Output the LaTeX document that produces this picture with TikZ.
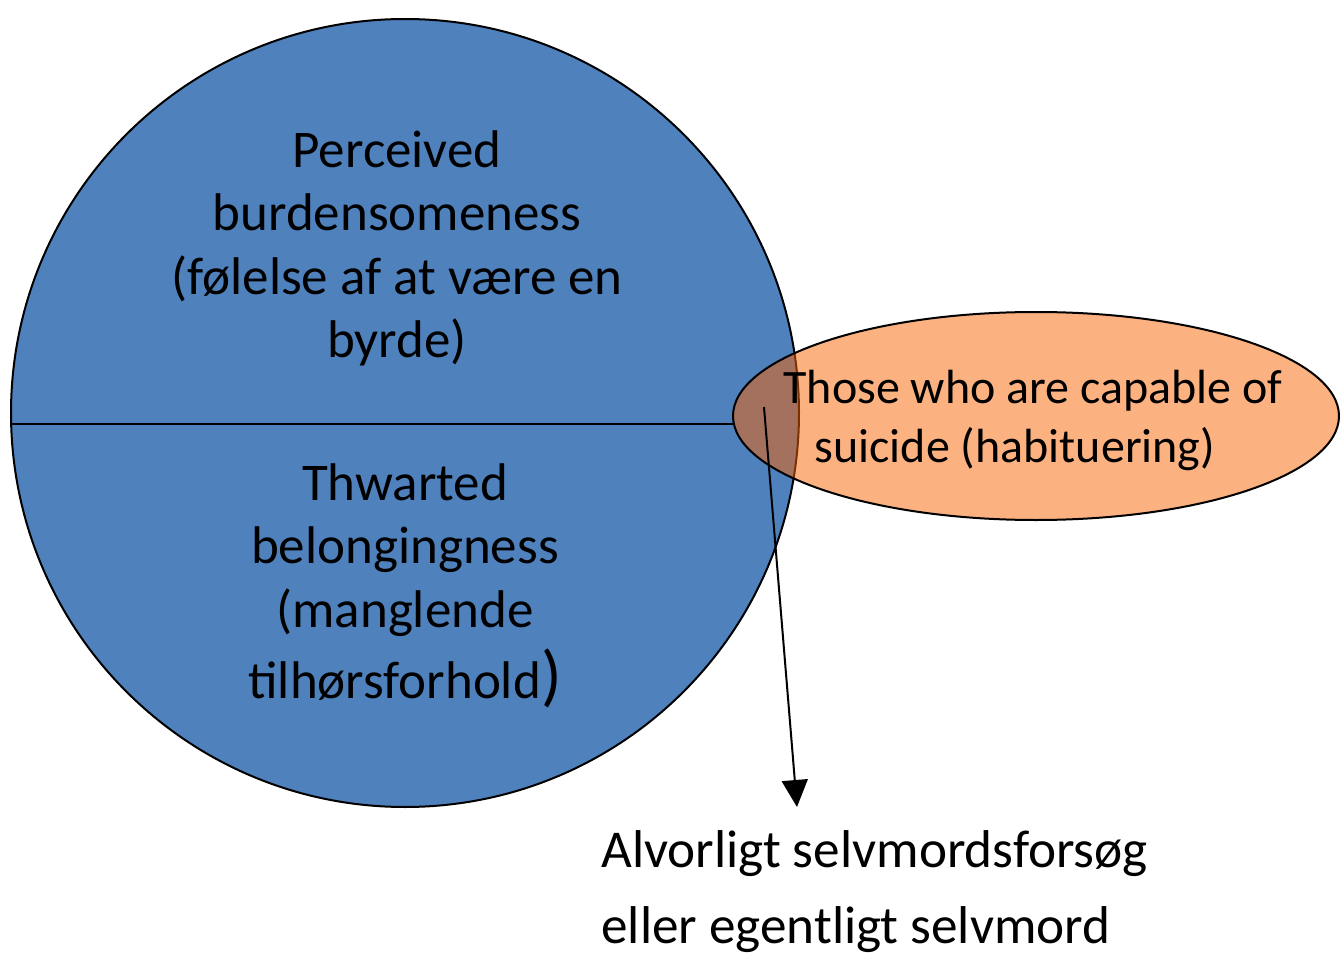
\documentclass[tikz,border=0pt]{standalone}
\usepackage{fontspec}
\setmainfont{Carlito}
\usetikzlibrary{arrows.meta}
\definecolor{circblue}{RGB}{79,129,189}
\definecolor{ellorange}{RGB}{249,99,1}
\tikzset{
  txt/.style={inner sep=0pt, anchor=base, font=\fontsize{26.5}{32}\selectfont},
  etxt/.style={inner sep=0pt, anchor=base, font=\fontsize{24}{29.5}\selectfont},
  btxt/.style={inner sep=0pt, anchor=base west, font=\fontsize{26.6}{38}\selectfont},
  outline/.style={draw=black, line width=1pt},
  connector/.style={line width=1pt, -{Triangle[width=13pt,length=13.5pt]}}
}
\begin{document}
\begin{tikzpicture}[x=0.5pt,y=-0.5pt]
\useasboundingbox (0,0) rectangle (1341,953);
% circle
\node[circle, outline, fill=circblue, minimum size=394pt, inner sep=0pt] (circ) at (405,413) {};
\coordinate (lineL) at (11,424);
\coordinate (lineR) at (733,424);
\draw[line width=1pt] (lineL) -- (lineR);
% ellipse
\fill[ellorange, fill opacity=0.5] (1036,416) ellipse [x radius=303, y radius=104];
\draw[line width=1pt] (1036,416) ellipse [x radius=303, y radius=104];
% texts in circle
\node[txt] (p1) at (397,167) {Perceived};
\node[txt] (p2) at (397,230) {burdensomeness};
\node[txt] (p3) at (397,294) {(følelse af at være en};
\node[txt] (p4) at (397,357) {byrde)};
\node[txt] (t1) at (405,500) {Thwarted};
\node[txt] (t2) at (405,563) {belongingness};
\node[txt] (t3) at (405,627) {(manglende};
\node[txt] (t4) at (405,698) {tilhørsforhold{\fontsize{34}{34}\selectfont)}};
% texts in ellipse
\node[etxt] (e1) at (1033,403) {Those who are capable of};
\node[etxt] (e2) at (1015,462) {suicide (habituering)};
% bottom text
\node[btxt] (b1) at (601,867) {Alvorligt selvmordsforsøg};
\node[btxt] (b2) at (601,943) {eller egentligt selvmord};
% arrow
\coordinate (aStart) at (764,407);
\coordinate (aEnd) at (797,807);
\draw[connector] (aStart) -- (aEnd);
\end{tikzpicture}
\end{document}
